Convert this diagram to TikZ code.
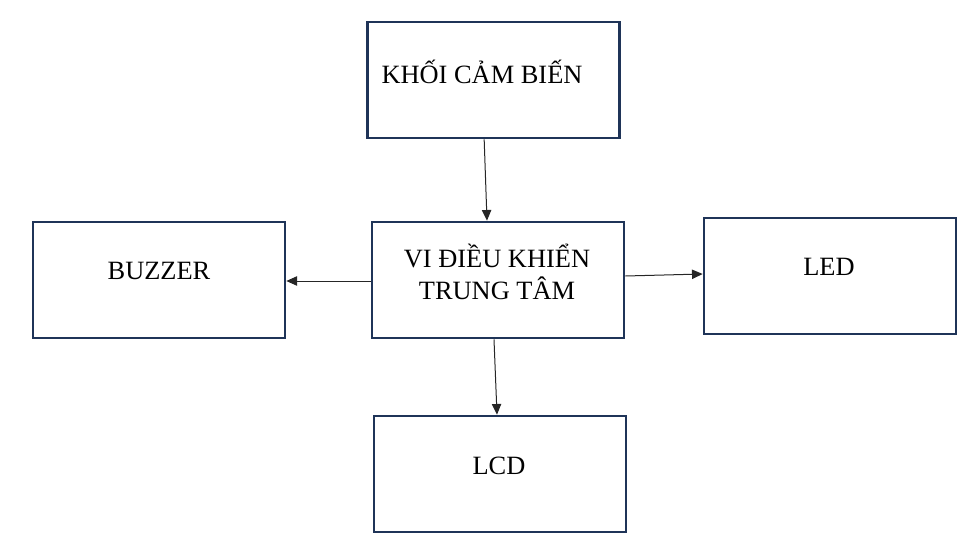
\documentclass[tikz,border=0pt]{standalone}
\usepackage{fontspec}
\setmainfont{Liberation Serif}
\usetikzlibrary{arrows.meta}

\definecolor{boxnavy}{RGB}{31,52,88}

\begin{document}
\begin{tikzpicture}[x=0.75pt,y=0.75pt,yscale=-1,xscale=1,
	block/.style={draw=boxnavy,line width=2pt,minimum width=189pt,minimum height=87pt,inner sep=0pt},
	lbl/.style={inner sep=0.75pt,font=\fontsize{19.8}{24}\selectfont,align=center},
	arr/.style={-{Triangle[length=8pt,width=7pt]},line width=0.75pt,color=black!85}]
	\useasboundingbox (0,0) rectangle (972,553);
	
	% Blocks
	\node[block] (sensor) at (493.5,80) {};
	\node[block] (mcu) at (498,280) {};
	\node[block] (buzzer) at (159,280) {};
	\node[block] (led) at (830,276) {};
	\node[block] (lcd) at (500,474) {};
	
	% Text Nodes
	\node[lbl] (sensortext) at (482,72) {KHỐI CẢM BIẾN};
	\node[lbl] (mcutext) at (497,272) {VI ĐIỀU KHIỂN\\TRUNG TÂM};
	\node[lbl] (buzzertext) at (159,271) {BUZZER};
	\node[lbl] (ledtext) at (829,267) {LED};
	\node[lbl] (lcdtext) at (499,466) {LCD};
	
	% Connectors
	\draw[arr] ([xshift=-7pt]sensor.south) -- ([xshift=-8.25pt]mcu.north);
	\draw[arr] ([yshift=0.75pt]mcu.west) -- ([yshift=0.75pt]buzzer.east);
	\draw[arr] ([yshift=-3pt]mcu.east) -- ([yshift=-1.5pt]led.west);
	\draw[arr] ([xshift=-3pt]mcu.south) -- ([xshift=-2.25pt]lcd.north);
	
\end{tikzpicture}
\end{document}
